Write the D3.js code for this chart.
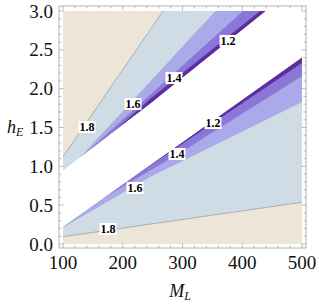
<!DOCTYPE html>
<html><head><meta charset="utf-8">
<script src="https://cdn.jsdelivr.net/npm/d3@7"></script>
<style>body{margin:0;background:#fff}svg{display:block}text{font-family:"Liberation Serif","DejaVu Serif",serif}</style>
</head><body>
<svg id="c" width="319" height="304"></svg>
<script>
// axis ticks
const xTicks = [100, 200, 300, 400, 500];
const yTicks = [0.0, 0.5, 1.0, 1.5, 2.0, 2.5, 3.0];
// upper band contours [M_L, h_E]
const upperEdge = [[100,0.946],[245.6,1.803],[439.7,3.0],[500,3.372]];
const upper12 = [[100,0.864],[178.7,1.406],[245.6,1.867],[429.7,3.0],[500,3.43]];
const upper14 = [[100,0.905],[401.3,3.0],[500,3.683]];
const upper16 = [[100,0.872],[354.4,2.991],[500,4.21]];
const upper18 = [[100,1.124],[267.4,3.0],[500,5.607]];
// lower band contours
const lowerEdge = [[100,0.223],[500,2.404]];
const lower12 = [[100,0.252],[500,2.330]];
const lower14 = [[100,0.288],[292.5,1.159],[500,2.163]];
const lower16 = [[100,0.216],[141.8,0.403],[245.6,0.866],[500,1.83]];
const lower18 = [[100,0.094],[500,0.537]];
// contour labels
const labelText = ["1.8","1.6","1.4","1.2","1.2","1.4","1.6","1.8"];
const labelM = [140.2, 217.2, 285.8, 376.2, 351.0, 290.8, 220.5, 175.3];
const labelH = [1.506, 1.803, 2.137, 2.614, 1.558, 1.159, 0.721, 0.193];

const colors = {beige:"#ece5d8", blue:"#cfdce5", lav:"#aaaaeb", mid:"#8b76da", dark:"#5c2e9e"};

const svg = d3.select("#c");
const x = d3.scaleLinear().domain([100,500]).range([63,302]);
const y = d3.scaleLinear().domain([0,3]).range([244,11]);

svg.append("defs").append("clipPath").attr("id","clip")
  .append("rect").attr("x",63).attr("y",11).attr("width",239).attr("height",233);
const g = svg.append("g").attr("clip-path","url(#clip)");

const areaUp = d3.area().x(d=>x(d[0])).y0(y(3.3)).y1(d=>y(d[1]));
const areaLo = d3.area().x(d=>x(d[0])).y0(y(-0.3)).y1(d=>y(d[1]));
const line = d3.line().x(d=>x(d[0])).y(d=>y(d[1]));

// lower band
[[lowerEdge,colors.dark],[lower12,colors.mid],[lower14,colors.lav],[lower16,colors.blue],[lower18,colors.beige]]
  .forEach(([d,c])=>g.append("path").attr("d",areaLo(d)).attr("fill",c));
// upper band
[[upperEdge,colors.dark],[upper12,colors.mid],[upper14,colors.lav],[upper16,colors.blue],[upper18,colors.beige]]
  .forEach(([d,c])=>g.append("path").attr("d",areaUp(d)).attr("fill",c));
// contour strokes
[upper12,upper14,upper16,lower12,lower14,lower16].forEach(d=>
  g.append("path").attr("d",line(d)).attr("fill","none").attr("stroke","#8a8a9a").attr("stroke-opacity",0.35).attr("stroke-width",0.6));
[upper18,lower18].forEach(d=>
  g.append("path").attr("d",line(d)).attr("fill","none").attr("stroke","#7a7a7a").attr("stroke-opacity",0.7).attr("stroke-width",0.7));
// white gap
const gap = lowerEdge.concat(upperEdge.slice().reverse());
g.append("path").attr("d",line(gap)+"Z").attr("fill","#fff");

// frame
const fx0=59, fx1=306, fy0=6, fy1=248;
svg.append("rect").attr("x",fx0).attr("y",fy0).attr("width",fx1-fx0).attr("height",fy1-fy0)
  .attr("fill","none").attr("stroke","#a0a0a0").attr("stroke-width",0.8);
const tk = svg.append("g").attr("stroke","#a0a0a0").attr("stroke-width",0.7);
const xMinor = d3.range(100,501,20);
const yMinor = d3.range(0,3.001,0.1);
xMinor.forEach(v=>{
  const major = xTicks.includes(Math.round(v));
  const L = major?4.5:2.5, px=x(v);
  tk.append("line").attr("x1",px).attr("x2",px).attr("y1",fy1).attr("y2",fy1-L);
  tk.append("line").attr("x1",px).attr("x2",px).attr("y1",fy0).attr("y2",fy0+L);
});
yMinor.forEach(v=>{
  const major = Math.abs(v*2-Math.round(v*2))<1e-6;
  const L = major?4.5:2.5, py=y(v);
  tk.append("line").attr("y1",py).attr("y2",py).attr("x1",fx0).attr("x2",fx0+L);
  tk.append("line").attr("y1",py).attr("y2",py).attr("x1",fx1).attr("x2",fx1-L);
});
svg.append("g").selectAll("text").data(xTicks).join("text")
  .attr("x",d=>x(d)).attr("y",269).attr("text-anchor","middle")
  .style("font-size","19px").attr("fill","#111").text(d=>d);
svg.append("g").selectAll("text").data(yTicks).join("text")
  .attr("x",53).attr("y",d=>y(d)+6.5).attr("text-anchor","end")
  .style("font-size","19px").attr("fill","#111").text(d=>d.toFixed(1));

// axis titles
const tx = svg.append("text").attr("x",180).attr("y",297).attr("text-anchor","middle")
  .style("font-size","18px").style("font-style","italic").attr("fill","#111");
tx.append("tspan").text("M");
tx.append("tspan").style("font-size","12px").attr("dy",3).text("L");
const ty = svg.append("text").attr("x",7).attr("y",133)
  .style("font-size","18px").style("font-style","italic").attr("fill","#111");
ty.append("tspan").text("h");
ty.append("tspan").style("font-size","12px").attr("dy",3).text("E");

// contour labels
const lab = svg.append("g");
labelText.forEach((t,i)=>{
  const px=x(labelM[i]), py=y(labelH[i]);
  lab.append("rect").attr("x",px-8.5).attr("y",py-6).attr("width",17).attr("height",12).attr("fill","#fff");
  lab.append("text").attr("x",px).attr("y",py+4).attr("text-anchor","middle")
    .style("font-weight","bold").style("font-size","12px").attr("fill","#000").text(t);
});
</script>
</body></html>
